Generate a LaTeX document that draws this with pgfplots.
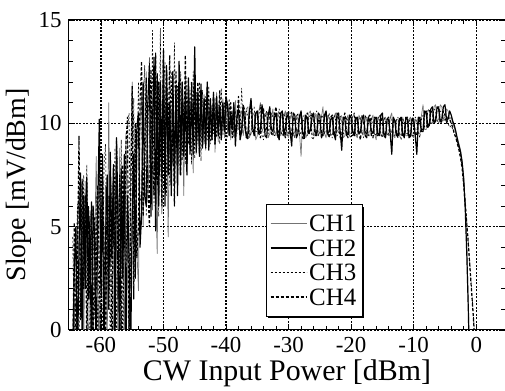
\documentclass[border=0pt]{standalone}
\usepackage{fontspec}
\setmainfont{Liberation Serif}
\usepackage{pgfplots}
\usepackage{pgfplotstable}
\pgfplotsset{compat=1.18}
\usetikzlibrary{calc,shadows}
\makeatletter
\tikzset{nopreaction/.code={\let\tikz@preactions\pgfutil@empty}}
\makeatother
\pgfplotstableread{
x c1 c2 c3 c4
-64.50 -2.0 -1.0 4.5 -2.0
-64.25 1.5 3.0 -1.0 5.2
-64.00 -2.0 5.0 2.5 -2.0
-63.75 4.8 -2.0 6.1 3.0
-63.50 6.8 4.0 -1.5 9.4
-63.25 1.0 7.6 7.2 0.5
-63.00 7.0 -1.0 2.0 7.3
-62.75 -1.5 6.5 7.5 2.0
-62.50 7.2 2.0 3.5 6.5
-62.25 3.0 7.4 8.0 -1.0
-62.00 -2.0 1.5 3.0 6.0
-61.75 5.8 5.5 -1.5 1.5
-61.50 5.5 -2.0 5.0 6.2
-61.25 -1.0 6.0 6.0 -1.5
-61.00 4.0 4.5 0.5 5.5
-60.75 8.4 -1.5 6.5 2.0
-60.50 2.5 6.0 -2.0 7.0
-60.25 -2.0 10.2 7.8 3.0
-60.00 6.5 2.0 3.5 -2.0
-59.75 6.0 7.5 -1.0 8.5
-59.50 1.0 -2.0 8.0 4.0
-59.25 7.0 4.5 9.0 -1.0
-59.00 -1.5 7.5 2.0 6.8
-58.75 11.0 1.0 6.5 2.5
-58.50 3.0 8.6 -2.0 6.5
-58.25 5.5 3.5 7.0 -2.0
-58.00 -2.0 8.0 4.0 7.6
-57.75 7.5 -1.0 8.8 3.0
-57.50 4.0 9.3 -1.0 9.2
-57.25 -1.0 5.0 6.5 1.5
-57.00 8.8 -1.5 2.0 7.5
-56.75 3.0 7.8 9.2 -1.0
-56.50 6.5 2.5 -2.0 8.0
-56.25 -2.0 8.5 7.0 4.0
-56.00 9.5 -2.0 1.0 9.0
-55.75 5.0 6.5 9.8 10.3
-55.50 -2.0 3.5 10.5 -1.0
-55.25 8.0 -1.5 2.0 6.0
-55.00 12.0 5.5 5.0 11.8
-54.75 2.0 8.5 11.2 1.5
-54.50 9.8 2.5 4.5 10.0
-54.25 4.0 9.8 8.0 3.5
-54.00 1.9 10.5 12.0 5.0
-53.75 10.0 4.0 6.5 11.0
-53.50 11.5 5.5 6.0 13.0
-53.25 5.0 12.0 11.0 5.5
-53.00 8.0 6.5 12.8 9.0
-52.75 12.5 6.0 5.5 12.2
-52.50 6.2 11.0 9.0 7.0
-52.25 9.0 12.8 13.2 5.0
-52.00 11.5 5.5 7.0 12.6
-51.75 5.8 10.0 14.5 8.0
-51.50 12.6 13.2 6.0 6.5
-51.25 7.0 4.8 12.5 13.4
-51.00 3.7 12.4 8.0 7.0
-50.75 11.8 6.0 5.5 12.0
-50.50 9.0 12.0 14.6 9.5
-50.25 6.5 7.5 5.6 6.0
-50.00 12.2 13.5 12.0 13.6
-49.75 8.0 6.0 13.0 7.5
-49.50 11.6 12.8 6.5 12.5
-49.25 4.5 7.5 11.0 9.0
-49.00 10.5 11.0 7.0 13.3
-48.75 7.1 6.5 12.5 7.2
-48.50 12.3 12.5 8.0 11.0
-48.25 8.2 7.0 13.9 6.0
-48.00 11.0 11.8 8.5 12.5
-47.75 7.6 6.5 11.8 8.6
-47.50 12.0 13.0 7.5 11.5
-47.25 8.5 8.0 12.5 7.5
-47.00 10.5 12.0 8.2 12.0
-46.75 6.5 8.4 11.0 9.0
-46.50 12.5 11.5 8.0 13.3
-46.25 8.8 7.5 12.2 8.0
-46.00 11.4 12.2 9.0 11.5
-45.75 9.0 8.5 11.6 8.8
-45.50 12.0 11.0 8.0 12.0
-45.25 7.6 9.0 12.5 8.5
-45.00 11.8 13.7 8.3 11.2
-44.75 8.5 8.6 11.5 9.0
-44.50 11.6 11.5 9.0 12.0
-44.25 8.9 8.4 12.0 8.6
-44.00 11.0 11.9 8.2 11.6
-43.75 9.2 8.8 11.6 9.1
-43.50 11.4 11.2 9.0 11.0
-43.25 8.7 9.0 11.3 8.8
-43.00 11.6 12.0 9.2 11.8
-42.75 9.0 8.7 11.8 9.4
-42.50 11.0 11.2 9.0 10.8
-42.25 9.3 9.2 10.9 9.2
-42.00 11.2 11.5 9.5 11.4
-41.75 8.6 9.0 11.2 9.0
-41.50 11.5 11.3 9.3 11.0
-41.25 9.1 9.4 10.9 9.6
-41.00 10.9 10.8 9.0 11.6
-40.75 9.5 9.2 11.7 9.3
-40.50 11.2 11.0 9.4 10.9
-40.25 9.3 9.6 11.0 9.7
-40.00 10.8 11.3 9.2 11.2
-39.75 9.6 10.9 9.4 10.7
-39.50 10.9 9.4 11.2 9.6
-39.25 9.2 10.5 9.8 11.0
-39.00 10.6 9.7 10.4 9.3
-38.75 9.5 11.0 9.3 10.8
-38.50 11.1 8.9 10.6 9.4
-38.25 9.8 10.3 9.5 10.2
-38.00 9.7 10.7 11.0 11.3
-37.75 10.4 9.2 9.6 9.6
-37.50 10.6 9.6 11.7 9.5
-37.25 9.4 10.8 9.9 10.9
-37.00 9.9 10.0 9.8 10.6
-36.75 10.7 9.3 10.6 9.4
-36.50 10.8 9.5 10.4 9.2
-36.25 9.3 10.6 9.5 10.5
-36.00 9.6 11.2 9.4 10.9
-35.75 10.4 9.8 10.7 9.6
-35.50 10.5 9.4 10.8 9.7
-35.25 9.2 10.5 9.6 10.4
-35.00 9.4 10.6 9.6 10.5
-34.75 10.6 9.5 10.4 9.5
-34.50 11.0 9.7 10.9 9.3
-34.25 9.6 10.9 9.4 10.5
-34.00 9.8 10.4 9.2 10.7
-33.75 10.5 9.4 10.3 9.6
-33.50 10.4 9.3 10.6 9.8
-33.25 9.3 10.4 9.5 10.6
-33.00 9.5 10.8 9.9 10.3
-32.75 10.3 9.7 10.5 9.5
-32.50 10.7 9.6 10.3 9.4
-32.25 9.6 10.3 9.4 10.5
-32.00 9.4 10.5 9.5 10.8
-31.75 10.5 9.5 10.2 9.3
-31.50 10.3 9.2 10.7 9.7
-31.25 9.4 10.5 9.6 10.4
-31.00 9.7 10.6 9.4 10.4
-30.75 10.4 9.4 10.5 9.6
-30.50 10.6 9.8 10.2 9.3
-30.25 9.5 10.4 9.4 10.5
-30.00 9.3 10.3 9.7 10.6
-29.75 10.2 9.6 10.4 9.4
-29.50 10.5 8.9 10.6 9.5
-29.25 9.4 10.5 9.5 10.3
-29.00 9.6 10.4 9.3 10.2
-28.75 10.4 9.3 10.3 9.6
-28.50 10.2 9.5 10.5 9.6
-28.25 9.5 10.3 9.4 10.4
-28.00 8.4 10.6 9.6 10.4
-27.75 10.3 9.6 10.2 9.3
-27.50 10.4 9.3 10.1 9.2
-27.25 9.3 10.4 9.5 10.3
-27.00 9.5 10.2 9.4 10.5
-26.75 10.5 9.5 10.3 9.5
-26.50 10.6 9.7 10.4 9.6
-26.25 9.5 10.3 9.3 10.5
-26.00 9.4 10.5 9.2 10.3
-25.75 10.4 9.6 10.5 9.4
-25.50 10.3 9.4 10.6 9.5
-25.25 9.4 10.5 9.4 10.2
-25.00 9.6 10.4 9.5 10.1
-24.75 10.3 9.3 10.4 9.6
-24.50 10.8 9.5 10.3 9.4
-24.25 9.5 10.4 9.5 10.4
-24.00 9.3 10.6 9.6 10.5
-23.75 10.4 9.5 10.2 9.5
-23.50 10.2 9.6 10.5 9.3
-23.25 9.4 10.2 9.4 10.3
-23.00 9.5 10.3 9.3 10.4
-22.75 10.3 9.5 10.4 9.4
-22.50 10.5 9.2 10.2 9.7
-22.25 9.6 10.4 9.4 10.5
-22.00 9.7 10.5 9.5 10.2
-21.75 10.3 9.6 10.3 9.3
-21.50 10.1 8.7 10.4 9.4
-21.25 9.3 10.3 9.5 10.2
-21.00 9.4 10.2 9.6 10.5
-20.75 10.2 9.4 10.3 9.6
-20.50 10.4 9.5 10.1 9.3
-20.25 9.5 10.4 9.3 10.4
-20.00 9.5 10.3 9.4 10.2
-19.75 10.3 9.6 10.3 9.4
-19.50 10.5 9.4 10.5 9.6
-19.25 9.4 10.3 9.4 10.2
-19.00 9.3 10.2 9.5 10.3
-18.75 10.4 9.5 10.2 9.5
-18.50 10.2 9.6 10.3 9.2
-18.25 9.5 10.2 9.6 10.4
-18.00 9.6 10.4 9.3 10.1
-17.75 10.2 9.4 10.4 9.6
-17.50 10.3 9.3 10.2 9.5
-17.25 9.4 10.3 9.4 10.3
-17.00 9.4 10.1 9.6 10.4
-16.75 10.2 9.6 10.3 9.4
-16.50 10.4 9.5 10.0 9.3
-16.25 9.5 10.2 9.5 10.3
-16.00 9.2 10.3 9.4 10.2
-15.75 10.3 9.5 10.2 9.4
-15.50 10.1 9.4 10.4 9.6
-15.25 9.4 10.4 9.5 10.3
-15.00 9.5 10.5 9.3 10.0
-14.75 10.2 9.4 10.3 9.5
-14.50 10.3 9.3 10.1 9.4
-14.25 9.5 10.2 9.4 10.2
-14.00 9.4 10.2 9.5 10.3
-13.75 10.3 9.5 10.3 9.4
-13.50 10.5 8.5 10.2 9.5
-13.25 9.4 10.3 9.5 10.1
-13.00 9.3 10.1 9.4 10.2
-12.75 10.2 9.4 10.2 9.5
-12.50 10.2 9.5 10.3 9.3
-12.25 9.4 10.2 9.4 10.3
-12.00 9.5 10.3 9.2 10.1
-11.75 10.3 9.5 10.2 9.4
-11.50 10.0 9.3 10.1 9.5
-11.25 9.4 10.3 9.5 10.2
-11.00 9.4 10.2 9.5 10.3
-10.75 10.2 9.3 10.2 9.5
-10.50 10.3 9.4 10.0 9.3
-10.25 9.4 10.2 9.4 10.3
-10.00 9.3 10.1 9.4 10.2
-9.75 10.2 9.4 10.3 9.5
-9.50 10.1 8.5 10.2 9.4
-9.25 9.5 10.2 9.5 10.3
-9.00 9.5 10.3 9.3 10.0
-8.75 10.4 9.6 10.2 9.7
-8.50 10.9 9.6 10.4 9.7
-8.25 9.7 10.6 9.8 10.5
-8.00 9.7 10.5 9.8 10.6
-7.75 10.6 9.8 10.6 9.9
-7.50 10.6 9.9 10.7 10.0
-7.25 10.0 10.7 10.0 10.6
-7.00 10.0 10.8 10.1 10.5
-6.75 10.8 10.0 10.7 10.1
-6.50 10.9 10.1 10.6 10.2
-6.25 10.1 10.8 10.1 10.7
-6.00 10.2 10.7 10.0 10.8
-5.75 10.9 10.1 10.6 10.0
-5.50 10.8 10.2 10.5 10.1
-5.25 10.2 10.8 10.1 10.6
-5.00 10.3 10.9 10.2 10.4
-4.75 10.7 10.2 10.3 10.0
-4.50 10.6 10.2 10.0 10.3
-4.25 10.2 10.6 9.8 10.2
-4.00 10.3 10.4 9.9 10.0
-3.75 10.0 10.1 9.7 9.8
-3.50 9.8 9.9 9.5 9.5
-3.25 9.5 9.6 9.3 9.3
-3.00 9.3 9.2 9.1 9.0
-2.75 9.0 8.9 8.8 8.7
-2.50 8.7 8.6 8.4 8.3
-2.25 8.2 8.1 7.9 7.8
-2.00 7.4 7.3 7.1 7.0
-1.75 6.0 5.8 6.2 6.1
-1.50 4.0 3.6 5.2 5.1
-1.25 1.2 0.8 4.2 4.1
-1.00 -2.5 -3.0 3.1 3.0
-0.75 -5.0 -5.0 2.0 1.9
-0.50 -5.0 -5.0 0.9 0.8
-0.25 -5.0 -5.0 -0.3 -0.4
0.00 -5.0 -5.0 -2.0 -2.0
}\datatable
\begin{document}
\begin{tikzpicture}
\begin{axis}[
  scale only axis,
  width=436bp, height=310bp,
  xmin=-65.1, xmax=4.6,
  ymin=0, ymax=15,
  xtick={-60,-50,...,0},
  ytick={0,5,10,15},
  minor x tick num=4,
  minor y tick num=4,
  tick align=inside,
  major tick length=6bp,
  minor tick length=4bp,
  every tick/.style={black, line width=0.7bp},
  axis line style={black, line width=1bp},
  grid=major,
  major grid style={black, line width=1.2bp, dash pattern=on 2bp off 1.5bp},
  /pgf/number format/assume math mode=true,
  tick label style={font=\fontsize{23}{26}\selectfont},
  xticklabel style={yshift=-4bp},
  yticklabel style={xshift=-4bp},
  xlabel style={font=\fontsize{30}{34}\selectfont},
  ylabel style={font=\fontsize{28}{32}\selectfont, at={(ticklabel cs:0.468)}},
  xlabel={CW Input Power [dBm]},
  ylabel={Slope [mV/dBm]},
  legend cell align=left,
  legend style={at={(0.451,0.406)}, anchor=north west, draw=black, line width=0.8bp, fill=white,
    font=\fontsize{25}{27}\selectfont,
    nodes={inner sep=2bp, text height=16bp, text depth=0bp},
    row sep=4.5bp, inner xsep=4bp, inner ysep=9bp,
    drop shadow={shadow xshift=2bp, shadow yshift=-2bp, fill=black, opacity=1}},
  legend image code/.code={\draw[nopreaction,#1] (0bp,0bp) -- (36bp,0bp);},
  every axis plot/.append style={line join=round},
]
\addplot[black!55, line width=0.7bp] table[x=x,y=c1]{\datatable};
\addlegendentry{CH1}
\addplot[black, line width=1.2bp] table[x=x,y=c2]{\datatable};
\addlegendentry{CH2}
\addplot[black, line width=0.6bp, dash pattern=on 2bp off 2bp] table[x=x,y=c3]{\datatable};
\addlegendentry{CH3}
\addplot[black, line width=1.2bp, dash pattern=on 3bp off 2bp] table[x=x,y=c4]{\datatable};
\addlegendentry{CH4}
\coordinate (bl) at (rel axis cs:0,0);
\coordinate (tr) at (rel axis cs:1,1);
\end{axis}
\pgfresetboundingbox
\path[use as bounding box] ($(bl)+(-69bp,-61bp)$) rectangle ($(tr)+(0bp,20bp)$);
\end{tikzpicture}
\end{document}
